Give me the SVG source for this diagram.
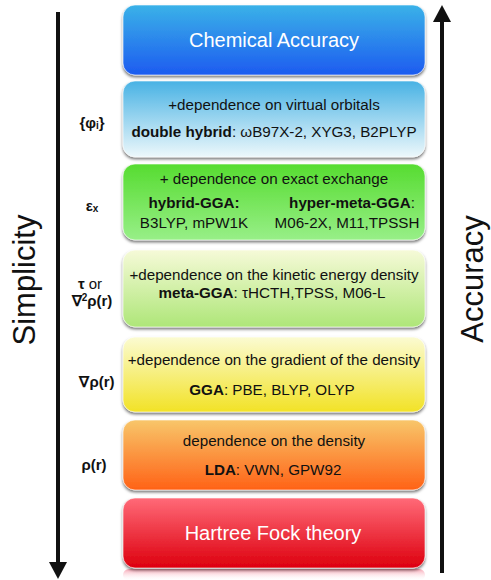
<svg xmlns="http://www.w3.org/2000/svg" width="491" height="580" viewBox="0 0 491 580">
  <style>
    text { font-family: "Liberation Sans", Arial, Helvetica, sans-serif; fill: #111; }
    .title { font-size: 20px; fill: #ffffff; text-anchor: middle; }
    .body { font-size: 15.2px; text-anchor: middle; }
    .b { font-weight: bold; }
    .side { font-size: 15px; font-weight: bold; text-anchor: middle; }
    .axis { font-size: 31px; text-anchor: middle; }
    .box { filter: url(#shadow); stroke: rgba(255,255,255,0.6); stroke-width: 1; }
    .axisline { stroke: #111; stroke-width: 4; fill: none; }
  </style>
  <defs>
    <filter id="shadow" x="-10%" y="-10%" width="120%" height="130%">
      <feDropShadow dx="0" dy="2" stdDeviation="1.4" flood-color="#000" flood-opacity="0.55"/>
    </filter>
    <marker id="head" viewBox="0 0 17 18" markerWidth="17" markerHeight="18" refX="0" refY="9" orient="auto" markerUnits="userSpaceOnUse">
      <path d="M0,0 L17,9 L0,18 z" fill="#111"/>
    </marker>
    <linearGradient id="gBlue" x1="0" y1="0" x2="0" y2="1">
      <stop offset="0" stop-color="#3ab2e8"/>
      <stop offset="1" stop-color="#1d5bf0"/>
    </linearGradient>
    <linearGradient id="gSky" x1="0" y1="0" x2="0" y2="1">
      <stop offset="0" stop-color="#48b2e4"/>
      <stop offset="1" stop-color="#edf8fb"/>
    </linearGradient>
    <linearGradient id="gGreen" x1="0" y1="0" x2="0" y2="1">
      <stop offset="0" stop-color="#56dc30"/>
      <stop offset="1" stop-color="#98ef88"/>
    </linearGradient>
    <linearGradient id="gLime" x1="0" y1="0" x2="0" y2="1">
      <stop offset="0" stop-color="#f6fad8"/>
      <stop offset="1" stop-color="#aee678"/>
    </linearGradient>
    <linearGradient id="gYellow" x1="0" y1="0" x2="0" y2="1">
      <stop offset="0" stop-color="#fbfbd2"/>
      <stop offset="1" stop-color="#f2e226"/>
    </linearGradient>
    <linearGradient id="gOrange" x1="0" y1="0" x2="0" y2="1">
      <stop offset="0" stop-color="#f8c66a"/>
      <stop offset="1" stop-color="#ff6216"/>
    </linearGradient>
    <linearGradient id="gRed" x1="0" y1="0" x2="0" y2="1">
      <stop offset="0" stop-color="#ff6a78"/>
      <stop offset="1" stop-color="#dd000e"/>
    </linearGradient>
    <linearGradient id="gReflect" x1="0" y1="0" x2="0" y2="1">
      <stop offset="0" stop-color="#f4607a" stop-opacity="0.55"/>
      <stop offset="1" stop-color="#ffffff" stop-opacity="0"/>
    </linearGradient>
  </defs>

  <rect width="491" height="580" fill="#ffffff"/>

  <!-- axes -->
  <g id="connectors">
    <line class="axisline" x1="58" y1="12" x2="58" y2="562" marker-end="url(#head)"/>
    <line class="axisline" x1="442" y1="573" x2="442" y2="22" marker-end="url(#head)"/>
  </g>

  <text class="axis" transform="translate(35,280) rotate(-90)">Simplicity</text>
  <text class="axis" transform="translate(483,279) rotate(-90)">Accuracy</text>

  <!-- ingredient labels -->
  <g id="ingredients">
    <text class="side" x="92" y="128">{φ<tspan font-size="10" dy="1">i</tspan><tspan dy="-1">}</tspan></text>
    <text class="side" x="92" y="211">ε<tspan font-size="10" dy="1">x</tspan></text>
    <text class="side" x="90" y="289">τ <tspan font-weight="normal">or</tspan></text>
    <text class="side" x="92" y="306">∇<tspan font-size="10" dy="-5">2</tspan><tspan dy="5">ρ(r)</tspan></text>
    <text class="side" x="97" y="387">∇ρ(r)</text>
    <text class="side" x="94" y="470">ρ(r)</text>
  </g>

  <!-- reflection under the base rung -->
  <rect x="123" y="569" width="302" height="12" rx="6" fill="url(#gReflect)"/>

  <g id="chemical-accuracy">
    <rect class="box" x="123" y="5" width="302" height="70" rx="12" fill="url(#gBlue)"/>
    <text class="title" x="274" y="47">Chemical Accuracy</text>
  </g>

  <g id="double-hybrid">
    <rect class="box" x="123" y="81" width="302" height="76" rx="12" fill="url(#gSky)"/>
    <text class="body" x="274" y="110">+dependence on virtual orbitals</text>
    <text class="body" x="274" y="137"><tspan class="b">double hybrid</tspan>: ωB97X-2, XYG3, B2PLYP</text>
  </g>

  <g id="hybrid">
    <rect class="box" x="123" y="164" width="302" height="76" rx="12" fill="url(#gGreen)"/>
    <text class="body" x="274" y="184">+ dependence on exact exchange</text>
    <text class="body b" x="194" y="208">hybrid-GGA:</text>
    <text class="body" x="194" y="228">B3LYP, mPW1K</text>
    <text class="body" x="352" y="208"><tspan class="b">hyper-meta-GGA</tspan>:</text>
    <text class="body" x="347" y="228">M06-2X, M11,TPSSH</text>
  </g>

  <g id="meta-gga">
    <rect class="box" x="123" y="250" width="302" height="77" rx="12" fill="url(#gLime)"/>
    <text class="body" x="274" y="280">+dependence on the kinetic energy density</text>
    <text class="body" x="272" y="298"><tspan class="b">meta-GGA</tspan>: τHCTH,TPSS, M06-L</text>
  </g>

  <g id="gga">
    <rect class="box" x="123" y="337" width="302" height="75" rx="12" fill="url(#gYellow)"/>
    <text class="body" x="274" y="365">+dependence on the gradient of the density</text>
    <text class="body" x="272" y="395"><tspan class="b">GGA</tspan>: PBE, BLYP, OLYP</text>
  </g>

  <g id="lda">
    <rect class="box" x="123" y="420" width="302" height="70" rx="12" fill="url(#gOrange)"/>
    <text class="body" x="274" y="446">dependence on the density</text>
    <text class="body" x="273" y="475"><tspan class="b">LDA</tspan>: VWN, GPW92</text>
  </g>

  <g id="hartree-fock">
    <rect class="box" x="123" y="498" width="302" height="70" rx="12" fill="url(#gRed)"/>
    <text class="title" x="273" y="540">Hartree Fock theory</text>
  </g>
</svg>
